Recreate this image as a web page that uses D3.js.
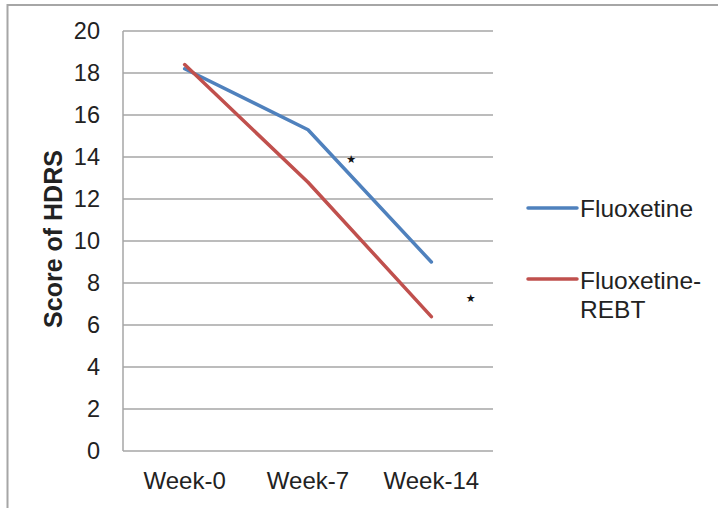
<!DOCTYPE html>
<html>
<head>
<meta charset="utf-8">
<script src="https://cdn.jsdelivr.net/npm/d3@7/dist/d3.min.js"></script>
<style>
  body { margin: 0; background: #fff; }
  svg { display: block; font-family: "Liberation Sans", Arial, sans-serif; }
</style>
</head>
<body>
<svg id="chart" width="718" height="508"></svg>
<script>
const categories = ["Week-0", "Week-7", "Week-14"];
const seriesNames = ["Fluoxetine", "Fluoxetine-REBT"];
const fluoxetine = [18.2, 15.3, 9.0];
const fluoxetineREBT = [18.4, 12.8, 6.4];
const yTicks = [0, 2, 4, 6, 8, 10, 12, 14, 16, 18, 20];
const starMarks = [{ cat: "Week-7", value: 13.9, offset: 0.35 }, { cat: "Week-14", value: 7.3, offset: 0.32 }];

const colors = ["#4F81BD", "#C0504D"];
const svg = d3.select("#chart");

// outer frame
svg.append("path")
  .attr("d", "M7.5,508 V5 H718")
  .attr("fill", "none").attr("stroke", "#a6a6a6").attr("stroke-width", 2);

const pLeft = 123, pRight = 493, pTop = 31, pBottom = 451;
const x = d3.scalePoint().domain(categories).range([pLeft, pRight]).padding(0.5);
const y = d3.scaleLinear().domain([0, 20]).range([pBottom, pTop]);
const step = x.step();

// gridlines
svg.append("g").selectAll("line").data(yTicks).join("line")
  .attr("x1", pLeft).attr("x2", pRight)
  .attr("y1", d => y(d)).attr("y2", d => y(d))
  .attr("stroke", "#a6a6a6").attr("stroke-width", 1.5);

// y axis line
svg.append("line").attr("x1", pLeft).attr("x2", pLeft).attr("y1", pTop).attr("y2", pBottom)
  .attr("stroke", "#a6a6a6").attr("stroke-width", 1.5);

// y tick labels
svg.append("g").selectAll("text").data(yTicks).join("text")
  .attr("x", 100).attr("y", d => y(d)).attr("dy", "0.35em")
  .attr("text-anchor", "end").attr("font-size", 23.5).attr("fill", "#222")
  .text(d => d);

// x tick labels
svg.append("g").selectAll("text").data(categories).join("text")
  .attr("x", d => x(d)).attr("y", 489)
  .attr("text-anchor", "middle").attr("font-size", 24).attr("fill", "#222")
  .text(d => d);

// y title
svg.append("text")
  .attr("transform", "translate(62,239) rotate(-90)")
  .attr("text-anchor", "middle").attr("font-size", 25).attr("font-weight", "bold").attr("fill", "#222")
  .text("Score of HDRS");

// lines
const line = d3.line().x((d, i) => x(categories[i])).y(d => y(d));
[fluoxetine, fluoxetineREBT].forEach((vals, i) => {
  svg.append("path").datum(vals)
    .attr("d", line)
    .attr("fill", "none").attr("stroke", colors[i]).attr("stroke-width", 3.5)
    .attr("stroke-linejoin", "round").attr("stroke-linecap", "round");
});

// stars
svg.append("g").selectAll("text").data(starMarks).join("text")
  .attr("x", d => x(d.cat) + d.offset * step).attr("y", d => y(d.value))
  .attr("dy", "0.35em").attr("text-anchor", "middle")
  .attr("font-size", 11).attr("fill", "#111")
  .attr("font-family", "DejaVu Sans")
  .text("★");

// legend
const legend = svg.append("g");
const legY = [208, 279];
seriesNames.forEach((name, i) => {
  legend.append("line").attr("x1", 528).attr("x2", 577).attr("y1", legY[i]).attr("y2", legY[i])
    .attr("stroke", colors[i]).attr("stroke-width", 3.5).attr("stroke-linecap", "round");
});
legend.append("text").attr("x", 580).attr("y", 217).attr("font-size", 24.5).attr("fill", "#222").text("Fluoxetine");
const t2 = legend.append("text").attr("x", 580).attr("y", 289).attr("font-size", 24.5).attr("fill", "#222");
t2.append("tspan").attr("x", 580).text("Fluoxetine-");
t2.append("tspan").attr("x", 580).attr("y", 318).text("REBT");
</script>
</body>
</html>
